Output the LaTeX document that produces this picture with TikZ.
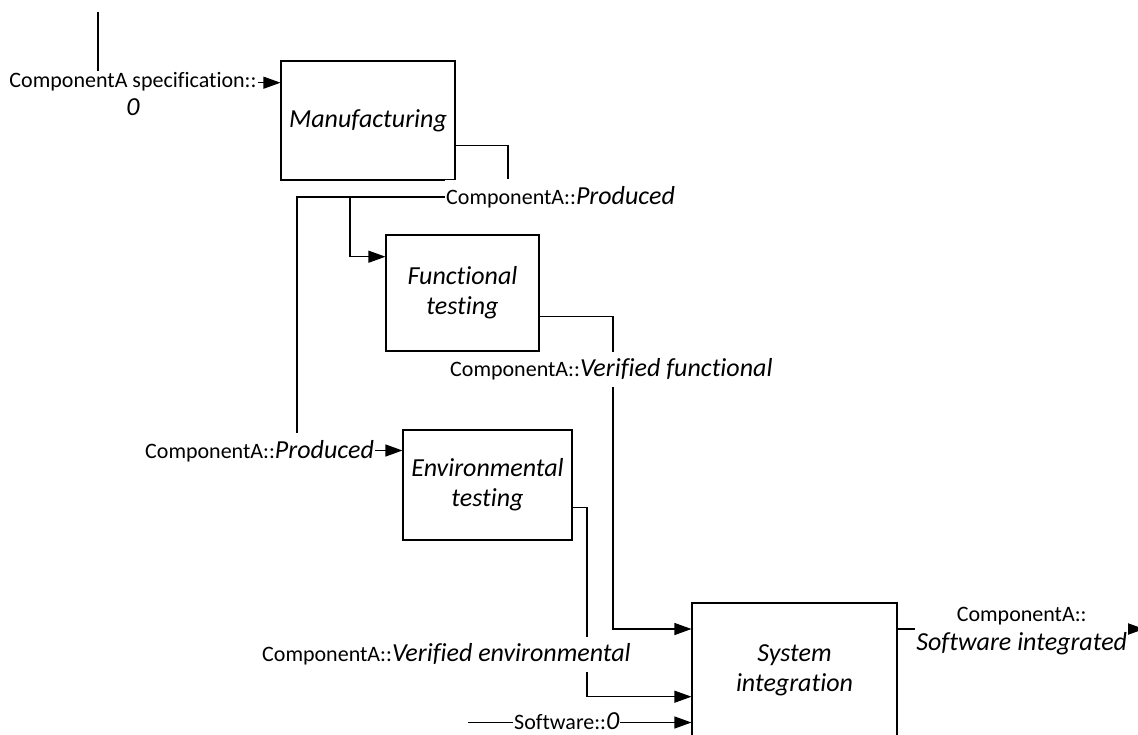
\documentclass[tikz,border=0pt]{standalone}
\usepackage{fontspec}
\setmainfont{Carlito}[Ligatures=NoCommon]
\usetikzlibrary{arrows.meta,calc,backgrounds}
\newcommand{\boxfont}{\fontsize{26}{30}\selectfont\itshape}
\newcommand{\lblfont}{\fontsize{22}{28.3}\selectfont}
\newcommand{\val}[1]{{\fontsize{26}{28.3}\selectfont\itshape #1}}
\begin{document}
\begin{tikzpicture}[x=1pt,y=-1pt,
  proc/.style={draw, line width=1.1pt, inner sep=0pt, align=center, font=\boxfont},
  flow/.style={fill=white, inner xsep=1pt, inner ysep=0pt, text height=25pt, text depth=10pt, font=\lblfont},
  flow2/.style={fill=white, inner sep=1pt, align=center, font=\lblfont},
  conn/.style={line width=1.1pt},
  arr/.style={conn, -{Triangle[length=17pt,width=12pt]}},
]
\useasboundingbox (0,0) rectangle (1138,734);

% activity boxes
\node[proc, minimum width=174pt, minimum height=119pt] (mfg) at (368,120.5) {Manufacturing};
\node[proc, minimum width=153pt, minimum height=116pt] (fun) at (462.5,293) {Functional\\testing};
\node[proc, minimum width=169pt, minimum height=110pt] (env) at (487.5,485) {Environmental\\testing};
\node[proc, minimum width=205pt, minimum height=134pt] (sys) at (794.5,670) {System\\integration};

% state labels on the flows
\node[flow, anchor=base west] (prodA) at (445,204.5) {ComponentA::\val{Produced}};
\node[flow, anchor=base west] (prodB) at (144,458) {ComponentA::\val{Produced}};
\node[flow, anchor=base west] (vfun) at (449,376.7) {ComponentA::\val{Verified functional}};
\node[flow, anchor=base west] (venv) at (261,661.7) {ComponentA::\val{Verified environmental}};
\node[flow, anchor=base west, text height=17pt, text depth=4pt] (sw) at (513,729) {Software::\val{0}};
\node[flow2, anchor=base] (spec) at (133,115.7) {ComponentA specification::\\\val{0}};
\node[flow2, anchor=base] (sint) at (1021.7,650) {ComponentA::\\\val{Software integrated}};

% junction columns and port points
\coordinate (specsrc) at (98,12);
\coordinate (mfgin) at ($(mfg.west)+(0,-37.8)$);
\coordinate (mfgout) at ($(mfg.east)+(0,25.2)$);
\coordinate (funin) at ($(fun.west)+(0,-36.3)$);
\coordinate (funout) at ($(fun.east)+(0,23.7)$);
\coordinate (envout) at ($(env.east)+(0,22.3)$);
\coordinate (sysin1) at ($(sys.west)+(0,-41)$);
\coordinate (sysin2) at ($(sys.west)+(0,26.7)$);
\coordinate (sysout) at ($(sys.east)+(0,-41)$);
\coordinate (j1) at (508,0);
\coordinate (j2) at (297,0);
\coordinate (j3) at (350,0);
\coordinate (j4) at (613,0);
\coordinate (j5) at (587,0);
\coordinate (swsrc) at (468,0);
\coordinate (sink) at (1144,0);

\begin{pgfonlayer}{background}
\fill[white] (0,0) rectangle (1138,734);
\draw[conn] (specsrc) -- (specsrc |- spec.north);
\draw[arr] (spec.east |- mfgin) -- (mfgin);
\draw[conn] (mfgout) -| (j1 |- prodA.north);
\draw[conn] (prodA.west) -| (j2 |- prodB.north);
\draw[arr] (j3 |- prodA.west) |- (funin);
\draw[arr] (prodB.east) -- (prodB.east -| env.west);
\draw[conn] (funout) -| (j4 |- vfun.north);
\draw[arr] (j4 |- vfun.south) |- (sysin1);
\draw[conn] (envout) -| (j5 |- venv.north);
\draw[arr] (j5 |- venv.south) |- (sysin2);
\draw[conn] (swsrc |- sw.west) -- (sw.west);
\draw[arr] (sw.east) -- (sw.east -| sys.west);
\draw[conn] (sysout) -- (sysout -| sint.west);
\draw[arr] (sint.east |- sysout) -- (sink |- sysout);
\end{pgfonlayer}
\end{tikzpicture}
\end{document}
